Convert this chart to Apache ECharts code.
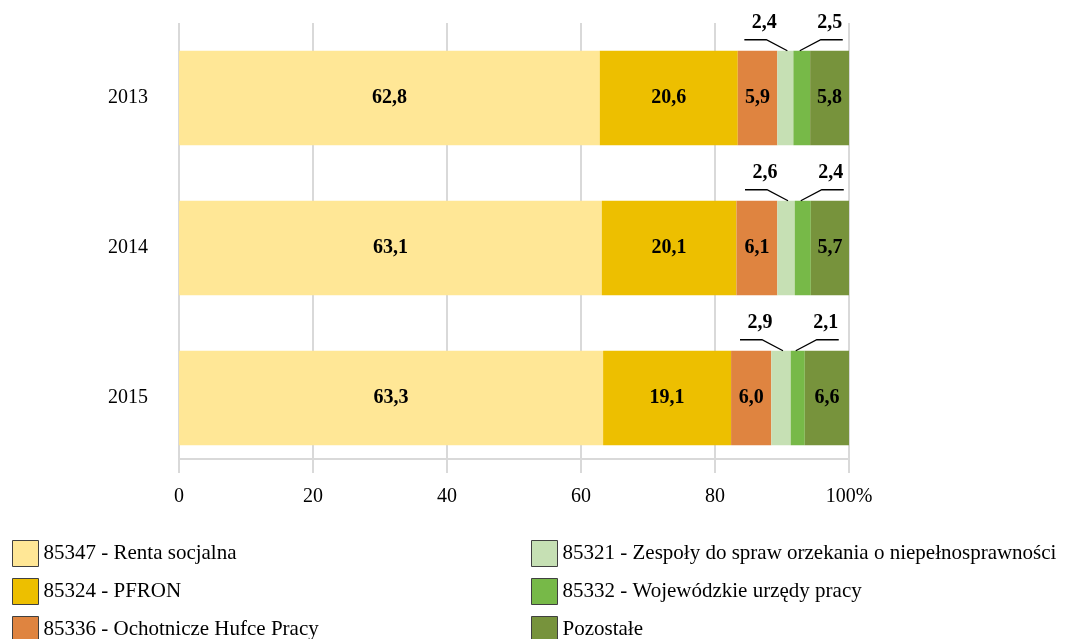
<!DOCTYPE html>
<html><head><meta charset="utf-8">
<script src="https://cdn.jsdelivr.net/npm/echarts@6/dist/echarts.min.js"></script>
<style>html,body{margin:0;padding:0;background:#fff}#c{width:1068px;height:639px}</style>
</head><body><div id="c"></div>
<script>
const categories = ['2013', '2014', '2015'];
const seriesNames = ['85347 - Renta socjalna', '85324 - PFRON', '85336 - Ochotnicze Hufce Pracy',
  '85321 - Zespoły do spraw orzekania o niepełnosprawności', '85332 - Wojewódzkie urzędy pracy', 'Pozostałe'];
const rentaSocjalna = [62.8, 63.1, 63.3];
const pfron = [20.6, 20.1, 19.1];
const ohp = [5.9, 6.1, 6.0];
const zespoly = [2.4, 2.6, 2.9];
const wup = [2.5, 2.4, 2.1];
const pozostale = [5.8, 5.7, 6.6];
const xTicks = [0, 20, 40, 60, 80, 100];

const colors = ['#FFE796', '#EDBF00', '#DF8440', '#C6E0B4', '#77B948', '#77933C'];
const values = [rentaSocjalna, pfron, ohp, zespoly, wup, pozostale];
const font = '"Liberation Serif", "Times New Roman", serif';
const fmtNum = v => v.toFixed(1).replace('.', ',');
const BAR_FRAC = 0.63;

const series = values.map((v, i) => {
  const small = (i === 3 || i === 4);
  return {
    name: seriesNames[i], type: 'bar', stack: 'total', data: v, barWidth: (BAR_FRAC * 100) + '%',
    itemStyle: { color: colors[i] },
    label: {
      show: !small, position: 'inside', formatter: p => fmtNum(p.value),
      fontFamily: font, fontWeight: 'bold', fontSize: 20, color: '#000'
    }
  };
});

// external callout labels for the two small segments
const calloutData = [];
categories.forEach((c, ci) => {
  [3, 4].forEach(si => {
    let start = 0;
    for (let k = 0; k < si; k++) start += values[k][ci];
    calloutData.push([start + values[si][ci] / 2, ci, values[si][ci], si === 3 ? -1 : 1]);
  });
});
series.push({
  type: 'custom', silent: true, z: 10,
  data: calloutData,
  encode: { x: 0, y: 1 },
  renderItem: (params, api) => {
    const p = api.coord([api.value(0), api.value(1)]);
    const band = api.size([0, 1])[1];
    const dir = api.value(3);
    const top = p[1] - band * BAR_FRAC / 2;
    const ax = p[0] - dir * 2;
    return {
      type: 'group',
      children: [
        { type: 'polyline', shape: { points: [[ax, top], [ax + dir * 21, top - 11], [ax + dir * 43, top - 11]] },
          style: { stroke: '#000', lineWidth: 1.3, fill: null } },
        { type: 'text', x: ax + dir * (dir < 0 ? 23 : 30), y: top - 28,
          style: { text: fmtNum(api.value(2)), fontFamily: font, fontWeight: 'bold', fontSize: 20,
            fill: '#000', align: 'center', verticalAlign: 'middle' } }
      ]
    };
  }
});

const legendCommon = {
  orient: 'vertical', top: 540, height: 130, padding: 0,
  itemWidth: 26, itemHeight: 26, itemGap: 11, icon: 'rect',
  itemStyle: { borderColor: '#404040', borderWidth: 1 },
  textStyle: { fontFamily: font, fontSize: 21, color: '#000', padding: [0, 0, 0, 0] }
};

const chart = echarts.init(document.getElementById('c'));
chart.setOption({
  animation: false,
  color: colors,
  grid: { left: 179, right: 219, top: 23, bottom: 166 },
  xAxis: {
    type: 'value', min: 0, max: 100, interval: 20, offset: -14,
    axisLine: { show: true, lineStyle: { color: '#D9D9D9', width: 2 } },
    axisTick: { show: true, length: 14, lineStyle: { color: '#D9D9D9', width: 2 } },
    splitLine: { show: true, lineStyle: { color: '#D9D9D9', width: 2 } },
    axisLabel: {
      margin: 28, fontFamily: font, fontSize: 20, color: '#000',
      formatter: v => xTicks.includes(v) ? (v === 100 ? '100%' : String(v)) : ''
    }
  },
  yAxis: {
    type: 'category', data: categories, inverse: true,
    axisLine: { show: false }, axisTick: { show: false },
    axisLabel: { margin: 31, fontFamily: font, fontSize: 20, color: '#000' }
  },
  legend: [
    Object.assign({ data: seriesNames.slice(0, 3), left: 12 }, legendCommon),
    Object.assign({ data: seriesNames.slice(3), left: 531 }, legendCommon)
  ],
  series: series
});
</script></body></html>
